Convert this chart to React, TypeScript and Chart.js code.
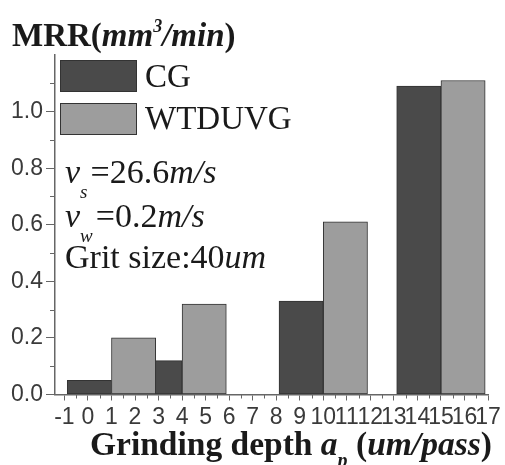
import React, { useEffect, useRef } from 'react';
import { Chart, registerables } from 'chart.js';

Chart.register(...registerables);

// ---- data ----
const groupCenters = [1, 4, 10, 15];
const cgValues = [0.05, 0.12, 0.33, 1.09];
const wtduvgValues = [0.2, 0.32, 0.61, 1.11];
const seriesNames = ['CG', 'WTDUVG'];
const xTickValues = [-1, 0, 1, 2, 3, 4, 5, 6, 7, 8, 9, 10, 11, 12, 13, 14, 15, 16, 17];
const yTickValues = [0, 0.2, 0.4, 0.6, 0.8, 1.0];
const barWidthUnits = 1.88;

// ---- styles ----
const CG_COLOR = '#4a4a4a';
const WT_COLOR = '#9d9d9d';
const EDGE = '#333333';
const AXIS = '#666666';
const TICK_TEXT = '#3a3a3a';
const SERIF = '"Liberation Serif", "Times New Roman", serif';
const SANS = '"Liberation Sans", Arial, sans-serif';

const minorTicksPlugin = {
  id: 'minorTicks',
  afterDraw(chart: any) {
    const { ctx, scales } = chart;
    const x = scales.x;
    const y = scales.y;
    ctx.save();
    ctx.strokeStyle = AXIS;
    ctx.lineWidth = 1;
    ctx.beginPath();
    for (let v = -0.5; v < 17; v += 1) {
      const px = Math.round(x.getPixelForValue(v)) + 0.5;
      ctx.moveTo(px, x.top);
      ctx.lineTo(px, x.top + 4);
    }
    for (let v = 0.1; v < 1.2; v += 0.2) {
      const py = Math.round(y.getPixelForValue(v)) + 0.5;
      ctx.moveTo(y.right, py);
      ctx.lineTo(y.right - 5, py);
    }
    ctx.stroke();
    ctx.restore();
  },
};

const App = () => {
  const canvasRef = useRef<HTMLCanvasElement>(null);

  useEffect(() => {
    document.body.style.margin = '0';
    const canvas = canvasRef.current;
    if (!canvas) return;
    const chart = new Chart(canvas, {
      type: 'bar',
      data: {
        datasets: [
          {
            label: seriesNames[0],
            data: groupCenters.map((c, i) => ({ x: c - barWidthUnits / 2, y: cgValues[i] })),
            backgroundColor: CG_COLOR,
            borderColor: EDGE,
            borderWidth: 1,
            borderSkipped: false,
            grouped: false,
            order: 1,
          } as any,
          {
            label: seriesNames[1],
            data: groupCenters.map((c, i) => ({ x: c + barWidthUnits / 2, y: wtduvgValues[i] })),
            backgroundColor: WT_COLOR,
            borderColor: EDGE,
            borderWidth: 1,
            borderSkipped: false,
            grouped: false,
            order: 0,
          } as any,
        ],
      },
      options: {
        animation: false,
        responsive: false,
        maintainAspectRatio: false,
        layout: { padding: { left: 0, top: 55, right: 17, bottom: 0 } },
        plugins: {
          legend: { display: false },
          title: { display: false },
          tooltip: { enabled: false },
        },
        scales: {
          x: {
            type: 'linear',
            min: -1.4,
            max: 17,
            offset: false,
            afterBuildTicks: (s: any) => {
              s.ticks = xTickValues.map((v) => ({ value: v }));
            },
            afterFit: (s: any) => {
              s.height = 70.5;
            },
            ticks: {
              autoSkip: false,
              maxRotation: 0,
              minRotation: 0,
              padding: 3,
              color: TICK_TEXT,
              font: { family: SANS, size: 23 },
              callback: (v: any) => String(v),
            },
            grid: {
              offset: false,
              drawOnChartArea: false,
              drawTicks: true,
              tickLength: 6,
              color: AXIS,
            },
            border: { color: AXIS, width: 1.5 },
          },
          y: {
            type: 'linear',
            min: 0,
            max: 1.2,
            afterBuildTicks: (s: any) => {
              s.ticks = yTickValues.map((v) => ({ value: v }));
            },
            afterFit: (s: any) => {
              s.width = 55;
            },
            ticks: {
              padding: 3,
              color: TICK_TEXT,
              font: { family: SANS, size: 23 },
              callback: (v: any) => Number(v).toFixed(1),
            },
            grid: {
              drawOnChartArea: false,
              drawTicks: true,
              tickLength: 9,
              color: AXIS,
            },
            border: { color: AXIS, width: 1.5 },
          },
        },
      } as any,
      plugins: [minorTicksPlugin],
    });

    const xs: any = chart.scales.x;
    const px = Math.abs(xs.getPixelForValue(barWidthUnits) - xs.getPixelForValue(0));
    chart.data.datasets.forEach((d: any) => {
      d.barThickness = px;
    });
    chart.update();

    return () => chart.destroy();
  }, []);

  const abs = (left: number, top: number, size: number, extra: React.CSSProperties = {}): React.CSSProperties => ({
    position: 'absolute',
    left,
    top,
    fontFamily: SERIF,
    fontSize: size,
    lineHeight: 1,
    whiteSpace: 'nowrap',
    color: '#1a1a1a',
    ...extra,
  });

  const subStyle = (size: number, drop: number): React.CSSProperties => ({
    fontSize: size,
    fontStyle: 'italic',
    position: 'relative',
    top: drop,
    marginRight: 3,
  });

  const swatch = (top: number, color: string): React.CSSProperties => ({
    position: 'absolute',
    left: 60,
    top,
    width: 75,
    height: 30,
    background: color,
    border: `1px solid ${EDGE}`,
  });

  return (
    <div style={{ position: 'relative', width: 505, height: 465, overflow: 'hidden', background: '#fff' }}>
      <canvas ref={canvasRef} width={505} height={465} style={{ position: 'absolute', left: 0, top: 0 }} />
      <div style={{ position: 'absolute', left: 0, top: 0, width: 505, height: 465, pointerEvents: 'none' }}>
        {/* y-axis title */}
        <div style={abs(12, 19, 33, { fontWeight: 'bold' })}>
          MRR(<i>mm</i>
          <span style={{ fontSize: 18, fontStyle: 'italic', position: 'relative', top: -14 }}>3</span>
          <i>/min</i>)
        </div>
        {/* legend */}
        <div style={swatch(60, CG_COLOR)} />
        <div style={abs(145, 59.5, 33)}>{seriesNames[0]}</div>
        <div style={swatch(103, WT_COLOR)} />
        <div style={abs(145, 101.5, 33)}>{seriesNames[1]}</div>
        {/* annotations */}
        <div style={abs(65, 155, 34)}>
          <i>v</i>
          <span style={subStyle(19, 15)}>s</span>=26.6<i>m/s</i>
        </div>
        <div style={abs(65, 199, 34)}>
          <i>v</i>
          <span style={subStyle(19, 15)}>w</span>=0.2<i>m/s</i>
        </div>
        <div style={abs(65, 240, 34)}>
          Grit size:40<i>um</i>
        </div>
        {/* x-axis title */}
        <div style={abs(90, 427, 33.5, { fontWeight: 'bold' })}>
          Grinding depth <i>a</i>
          <span style={{ fontSize: 20, fontStyle: 'italic', position: 'relative', top: 12 }}>p</span> (
          <i>um/pass</i>)
        </div>
      </div>
    </div>
  );
};

export default App;
